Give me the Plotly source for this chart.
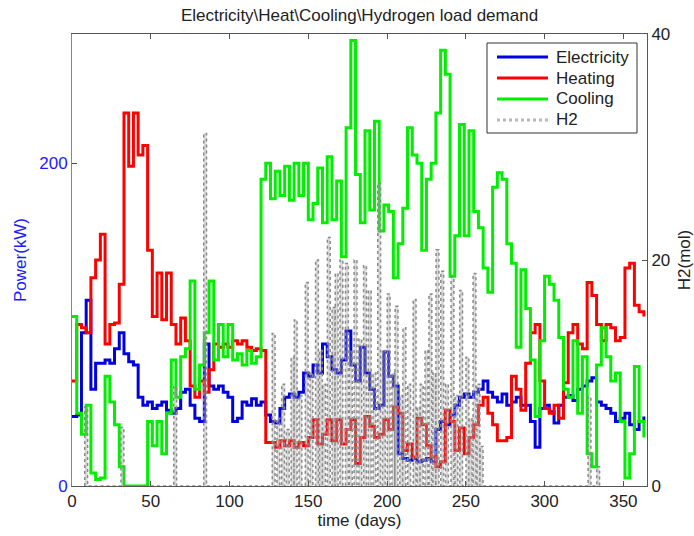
import plotly.graph_objects as go

# ---------------- data ----------------
days = list(range(0, 364, 3))  # 0,3,...,363

electricity = [43, 44, 95, 115, 60, 76, 76, 78, 76, 85, 95, 82, 77, 75, 55, 50, 52, 48, 50, 52,
               47, 45, 48, 58, 60, 50, 42, 40, 88, 62, 60, 62, 58, 55, 40, 42, 52, 50, 54, 50,
               52, 44, 40, 39, 48, 55, 57, 55, 58, 70, 68, 75, 70, 88, 80, 72, 70, 78, 96, 75,
               65, 86, 70, 60, 48, 50, 83, 68, 62, 20, 17, 16, 17, 15, 16, 17, 15, 35, 40, 38,
               44, 50, 55, 57, 55, 58, 60, 65, 58, 55, 52, 57, 50, 52, 55, 50, 50, 40, 24, 48,
               50, 46, 39, 50, 55, 56, 53, 60, 62, 65, 67, 52, 50, 48, 45, 40, 42, 45, 38, 35,
               40, 43]

heating = [65, 100, 98, 95, 129, 140, 156, 88, 100, 101, 125, 231, 198, 231, 205, 211, 146, 105, 132, 103,
           132, 100, 88, 104, 90, 62, 55, 65, 58, 72, 88, 86, 88, 86, 90, 88, 90, 86, 84, 85,
           84, 27, 27, 24, 28, 25, 28, 24, 27, 25, 30, 41, 26, 32, 41, 28, 41, 26, 35, 41,
           14, 30, 43, 37, 30, 32, 41, 35, 49, 45, 22, 26, 18, 42, 38, 25, 18, 12, 15, 47,
           40, 22, 36, 20, 30, 38, 50, 55, 45, 38, 28, 28, 30, 68, 60, 47, 76, 95, 100, 65,
           48, 45, 50, 42, 64, 95, 100, 88, 85, 126, 118, 100, 90, 100, 98, 90, 92, 135, 138, 112,
           108, 105]

cooling = [105, 45, 32, 50, 8, 4, 5, 68, 52, 38, 12, 0, 0, 0, 0, 0, 40, 25, 40, 20,
           45, 78, 55, 80, 85, 127, 60, 75, 95, 127, 78, 100, 80, 100, 78, 82, 75, 84, 76, 80,
           190, 200, 178, 195, 180, 198, 177, 200, 180, 200, 165, 175, 197, 163, 204, 165, 189, 142, 222, 276,
           193, 163, 220, 171, 226, 158, 174, 170, 129, 150, 172, 222, 205, 200, 146, 190, 200, 231, 270, 255,
           130, 155, 224, 155, 220, 170, 160, 135, 120, 185, 194, 190, 150, 138, 86, 134, 110, 78, 43, 90,
           130, 125, 115, 92, 60, 55, 90, 45, 80, 20, 12, 75, 98, 80, 65, 70, 40, 5, 20, 74,
           40, 30]

h2_days = [9, 32, 65.5, 84.5, 128, 131, 134, 137, 140, 142, 145, 149, 152, 155.5, 158, 160, 163, 166,
           168, 171, 174.5, 177, 180, 183, 186, 189, 192, 195, 198, 201, 204, 206, 209, 211, 214,
           217.5, 220, 222, 225, 227.5, 230, 232, 235, 238, 241.5, 244, 247, 251, 253, 255.5, 258,
           260, 328.5, 334]
h2_vals = [7, 5.2, 8.8, 31.2, 13.5, 6, 9, 5, 11.4, 14.7, 8, 18, 10, 20, 12, 9, 22, 15.8,
           18.8, 20, 19.7, 12, 20, 13, 19.5, 17.3, 10, 26.8, 12, 17, 10, 15.9, 8, 14, 9,
           16.5, 7, 9, 12, 17, 10, 20.9, 19, 9, 18.5, 8, 17.3, 11.4, 6, 18.8, 9,
           3.5, 7.9, 1.7]

series_names = ["Electricity", "Heating", "Cooling", "H2"]
x_ticks = [0, 50, 100, 150, 200, 250, 300, 350]
power_ticks = [0, 200]
h2_ticks = [0, 20, 40]

# ---------------- styles ----------------
FONT = "Arial, Liberation Sans, sans-serif"
FS = 17
TXT = "#222"
COLORS = {"Electricity": "#0000e0", "Heating": "#ff0000", "Cooling": "#00ee00", "H2": "#8a8a8a"}

# ---------------- build H2 spikes ----------------
HALF = 0.9
hx, hy = [], []
for c, h in zip(h2_days, h2_vals):
    hx += [c - HALF, c - HALF, c + HALF, c + HALF]
    hy += [0, h, h, 0]

fig = go.Figure()
for name, vals in zip(series_names[:3], [electricity, heating, cooling]):
    fig.add_trace(go.Scatter(x=days, y=vals, name=name, mode="lines", showlegend=False,
                             line=dict(color=COLORS[name], width=3, shape="hv")))
fig.add_trace(go.Scatter(x=hx, y=hy, name="H2", mode="lines", yaxis="y2", showlegend=False,
                         line=dict(color=COLORS["H2"], width=1.5, dash="dot"),
                         fill="tozeroy", fillcolor="rgba(160,160,160,0.40)"))

# ---------------- custom legend (MATLAB-like, long line samples) ----------------
W, H = 694, 536
ML, MR, MT, MB = 72, 47, 34, 50
PW, PH = W - ML - MR, H - MT - MB


def px(xp):
    return (xp - ML) / PW


def py(yp):
    return (H - MB - yp) / PH


box_l, box_r, box_t, box_b = 487, 637, 43, 133
row0, row_step = 57, 21
shapes = [dict(type="rect", xref="paper", yref="paper",
               x0=px(box_l), x1=px(box_r), y0=py(box_b), y1=py(box_t),
               line=dict(color="#333", width=1), fillcolor="white", layer="above")]
annotations = []
for i, name in enumerate(series_names):
    yc = row0 + i * row_step
    if name == "H2":
        ln = dict(color="#b8b8b8", width=3, dash="dot")
    else:
        ln = dict(color=COLORS[name], width=3)
    shapes.append(dict(type="line", xref="paper", yref="paper",
                       x0=px(497), x1=px(548), y0=py(yc), y1=py(yc), line=ln, layer="above"))
    annotations.append(dict(text=name, xref="paper", yref="paper", x=px(554), y=py(yc),
                            xanchor="left", yanchor="middle", showarrow=False,
                            font=dict(size=FS, color=TXT, family=FONT)))

fig.update_layout(
    width=W, height=H,
    margin=dict(l=ML, r=MR, t=MT, b=MB, autoexpand=False),
    paper_bgcolor="white", plot_bgcolor="white",
    font=dict(family=FONT, size=FS, color=TXT),
    title=dict(text="Electricity\\Heat\\Cooling\\Hydrogen load demand",
               x=0.5, xref="paper", xanchor="center",
               y=1 - 15 / H, yref="container", yanchor="middle",
               font=dict(size=FS, color=TXT)),
    showlegend=False,
    shapes=shapes,
    annotations=annotations,
    xaxis=dict(range=[0, 365], tickvals=x_ticks, ticks="inside", ticklen=5,
               showline=True, linecolor="#555", linewidth=1, mirror="ticks",
               tickcolor="#555", automargin=False,
               showgrid=False, zeroline=False,
               title=dict(text="time (days)", standoff=2, font=dict(size=FS, color=TXT)),
               tickfont=dict(size=FS, color=TXT)),
    yaxis=dict(range=[0, 280], tickvals=power_ticks, ticks="inside", ticklen=5,
               tickcolor="#3333ff", showline=True, linecolor="#7777ff", linewidth=1,
               showgrid=False, zeroline=False, automargin=False,
               title=dict(text="Power(kW)", standoff=8, font=dict(size=FS, color="#1a1aff")),
               tickfont=dict(size=FS, color="#1a1aff")),
    yaxis2=dict(range=[0, 40], tickvals=h2_ticks, overlaying="y", side="right",
                ticks="inside", ticklen=5, tickcolor="#555",
                showline=True, linecolor="#555", linewidth=1,
                showgrid=False, zeroline=False, automargin=False,
                title=dict(text="H2(mol)", standoff=13, font=dict(size=FS, color=TXT)),
                tickfont=dict(size=FS, color=TXT)),
)

fig.write_html("out.html", config={"displayModeBar": False},
               post_script="document.body.style.margin='0px';")
